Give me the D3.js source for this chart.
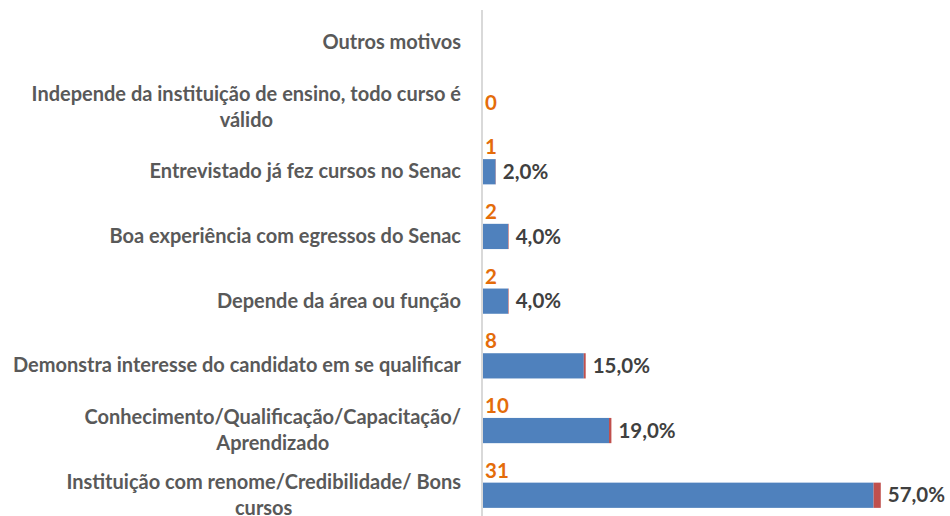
<!DOCTYPE html>
<html>
<head>
<meta charset="utf-8">
<script src="https://cdn.jsdelivr.net/npm/d3@7"></script>
<style>
  html, body { margin: 0; padding: 0; background: #ffffff; }
  svg { display: block; }
</style>
</head>
<body>
<svg id="chart" width="950" height="516"></svg>
<script>
// ---- data (top to bottom) ----
const categories = [
  "Outros motivos",
  "Independe da instituição de ensino, todo curso é\nválido",
  "Entrevistado já fez cursos no Senac",
  "Boa experiência com egressos do Senac",
  "Depende da área ou função",
  "Demonstra interesse do candidato em se qualificar",
  "Conhecimento/Qualificação/Capacitação/\nAprendizado",
  "Instituição com renome/Credibilidade/ Bons\ncursos"
];
const counts   = [null, 0, 1, 2, 2, 8, 10, 31];
const percents = [null, null, 0.02, 0.04, 0.04, 0.15, 0.19, 0.57];
const percentLabels = [null, null, "2,0%", "4,0%", "4,0%", "15,0%", "19,0%", "57,0%"];

const rows = categories.map((c, i) => ({
  cat: c, count: counts[i], pct: percents[i], pctLabel: percentLabels[i]
}));

const svg = d3.select("#chart");
const font = "Lato, 'Open Sans', sans-serif";

const x = d3.scaleLinear().domain([0, 35]).range([483, 924]);
const y = d3.scaleBand().domain(categories).range([10, 527.6])
  .paddingInner(0.61).paddingOuter(0.305);

// axis line
svg.append("line")
  .attr("x1", x(0) - 1).attr("x2", x(0) - 1)
  .attr("y1", 10).attr("y2", 516)
  .attr("stroke", "#d9d9d9").attr("stroke-width", 2);

// blue bars (counts)
svg.append("g").selectAll("rect")
  .data(rows.filter(d => d.count))
  .join("rect")
  .attr("x", x(0))
  .attr("y", d => y(d.cat))
  .attr("width", d => x(d.count) - x(0))
  .attr("height", y.bandwidth())
  .attr("fill", "#4F81BD");

// red segments (percent share, stacked)
svg.append("g").selectAll("rect")
  .data(rows.filter(d => d.pct))
  .join("rect")
  .attr("x", d => x(d.count))
  .attr("y", d => y(d.cat))
  .attr("width", d => x(d.count + d.pct) - x(d.count))
  .attr("height", y.bandwidth())
  .attr("fill", "#C0504D");

// category labels (multi-line centered block, right-aligned)
const labelRight = 461;
const lineGap = 26;
const catG = svg.append("g")
  .attr("font-family", font).attr("font-weight", "bold")
  .attr("font-size", "20px").attr("fill", "#595959");
rows.forEach(d => {
  const lines = d.cat.split("\n");
  const cy = y(d.cat) + y.bandwidth() / 2;
  const t = catG.append("text").attr("text-anchor", "middle");
  lines.forEach((ln, j) => {
    t.append("tspan").text(ln)
      .attr("y", cy + (j - (lines.length - 1) / 2) * lineGap)
      .attr("dy", "0.33em");
  });
  let maxW = 0;
  t.selectAll("tspan").each(function () {
    maxW = Math.max(maxW, this.getComputedTextLength());
  });
  t.selectAll("tspan").attr("x", labelRight - maxW / 2);
});

// count labels (orange, above bar start; zero-length bar label sits at band centre)
svg.append("g").selectAll("text")
  .data(rows.filter(d => d.count !== null))
  .join("text")
  .attr("x", x(0) + 2)
  .attr("y", d => d.count === 0 ? y(d.cat) + y.bandwidth() / 2 - 4 : y(d.cat) - 12)
  .attr("dy", "0.35em")
  .attr("font-family", font).attr("font-weight", "bold")
  .attr("font-size", "20.5px").attr("fill", "#E46C0A")
  .text(d => d.count);

// percent labels (end of bar)
svg.append("g").selectAll("text")
  .data(rows.filter(d => d.pct))
  .join("text")
  .attr("x", d => x(d.count + d.pct) + 7)
  .attr("y", d => y(d.cat) + y.bandwidth() / 2)
  .attr("dy", "0.35em")
  .attr("font-family", font).attr("font-weight", "bold")
  .attr("font-size", "20.5px").attr("fill", "#404040")
  .text(d => d.pctLabel);
</script>
</body>
</html>
